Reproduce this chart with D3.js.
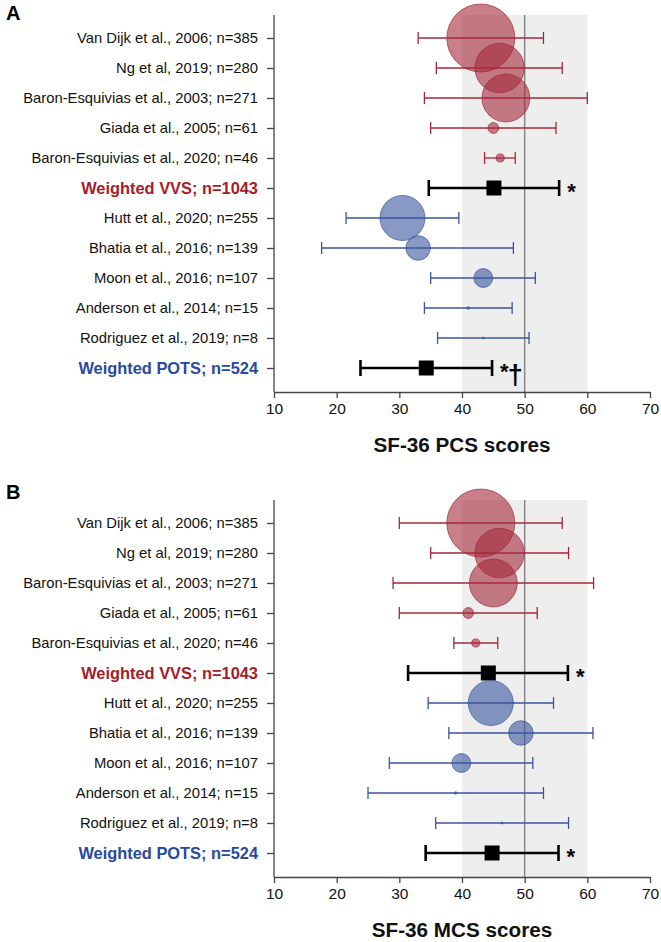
<!DOCTYPE html>
<html><head><meta charset="utf-8">
<script src="https://cdn.jsdelivr.net/npm/d3@7"></script>
<style>body{margin:0;background:#fff}svg{display:block}text{font-family:"Liberation Sans",Arial,sans-serif}</style>
</head><body>
<script>
const labels = ["Van Dijk et al., 2006; n=385","Ng et al, 2019; n=280","Baron-Esquivias et al., 2003; n=271","Giada et al., 2005; n=61","Baron-Esquivias et al., 2020; n=46","Weighted VVS; n=1043","Hutt et al., 2020; n=255","Bhatia et al., 2016; n=139","Moon et al., 2016; n=107","Anderson et al., 2014; n=15","Rodriguez et al., 2019; n=8","Weighted POTS; n=524"];
const nValues = [385,280,271,61,46,1043,255,139,107,15,8,524];
const groups = ["VVS","VVS","VVS","VVS","VVS","wVVS","POTS","POTS","POTS","POTS","POTS","wPOTS"];
const pcsMean = [43,46,47,45,46.1,45.1,30.5,33,43.4,41,43.4,34.3];
const pcsLow  = [33,35.9,34,35,43.6,34.7,21.5,17.6,35,34,36.1,23.8];
const pcsHigh = [53,56,60,55,48.5,55.5,39.5,48.2,51.7,48,50.7,44.8];
const pcsMarks = ["","","","","","*","","","","","","*†"];
const mcsMean = [43,46,45,41,42.2,44.2,44.6,49.4,39.9,39,46.4,44.8];
const mcsLow  = [30,35,29,30,38.7,31.4,34.6,37.9,28.4,25,35.8,34.2];
const mcsHigh = [56,57,61,52,45.7,56.9,54.6,60.9,51.3,53,57,55.4];
const mcsMarks = ["","","","","","*","","","","","","*"];
const xTicks = [10,20,30,40,50,60,70];
const normalBand = [40,60];
const normalLine = 50;

const W=661,H=942;
const svg=d3.select("body").append("svg").attr("width",W).attr("height",H);
const x=d3.scaleLinear().domain([10,70]).range([274,650]);
const r=d3.scaleLinear().domain([0,385]).range([0,34]);
const col={VVS:"#a3293a",POTS:"#3a559e",wVVS:"#a51c2b",wPOTS:"#284a9c"};

function panel(top,letter,letterY,mean,low,high,marks,title){
  const axisTop=top, axisBottom=top+377;
  const y=d3.scalePoint().domain(labels).range([top+23,top+353]);
  const g=svg.append("g");
  g.append("text").attr("x",6).attr("y",letterY).attr("font-size",20).attr("font-weight","bold").text(letter);
  g.append("rect").attr("x",x(normalBand[0])).attr("y",axisTop).attr("width",x(normalBand[1])-x(normalBand[0])).attr("height",axisBottom-axisTop).attr("fill","#eeeeee");
  g.append("line").attr("x1",x(normalLine)).attr("x2",x(normalLine)).attr("y1",axisTop).attr("y2",axisBottom).attr("stroke","#888").attr("stroke-width",1.5);
  const xa=g.append("g").attr("transform",`translate(0,${axisBottom})`).call(d3.axisBottom(x).tickValues(xTicks).tickSize(6).tickPadding(5).tickSizeOuter(0));
  xa.select(".domain").attr("stroke","#444").attr("stroke-width",1.3);
  xa.selectAll(".tick line").attr("stroke","#444").attr("stroke-width",1.3);
  xa.selectAll("text").attr("font-size",15.5).attr("fill","#111").attr("font-family","Liberation Sans, Arial, sans-serif");
  const ya=g.append("g").attr("transform",`translate(${x(10)},0)`).call(d3.axisLeft(y).tickSize(7).tickPadding(9).tickSizeOuter(0));
  ya.select(".domain").attr("d",`M0,${axisTop}V${axisBottom}`).attr("stroke","#444").attr("stroke-width",1.3);
  ya.selectAll(".tick line").attr("stroke","#444").attr("stroke-width",1.3);
  ya.selectAll("text").attr("font-family","Liberation Sans, Arial, sans-serif")
    .attr("fill",(d,i)=>groups[i]==="wVVS"?col.wVVS:groups[i]==="wPOTS"?col.wPOTS:"#111")
    .attr("font-weight",(d,i)=>groups[i].startsWith("w")?"bold":"normal")
    .attr("font-size",(d,i)=>groups[i].startsWith("w")?16.4:14.8);
  g.append("text").attr("x",x(40)).attr("y",axisBottom+60).attr("text-anchor","middle").attr("font-size",20.7).attr("font-weight","bold").attr("fill","#111").text(title);
  labels.forEach((lab,i)=>{
    const w=groups[i].startsWith("w");
    const c=w?"#000":col[groups[i]];
    const sw=w?2.6:1.3, cap=w?8:6;
    const yy=y(lab);
    g.append("line").attr("x1",x(low[i])).attr("x2",x(high[i])).attr("y1",yy).attr("y2",yy).attr("stroke",c).attr("stroke-width",sw);
    [low[i],high[i]].forEach(v=>g.append("line").attr("x1",x(v)).attr("x2",x(v)).attr("y1",yy-cap).attr("y2",yy+cap).attr("stroke",c).attr("stroke-width",sw));
    if(w){
      g.append("rect").attr("x",x(mean[i])-7.5).attr("y",yy-7.5).attr("width",15).attr("height",15).attr("fill","#000");
      if(marks[i]){
        const t=g.append("text").attr("x",x(high[i])+8).attr("y",yy+11).attr("font-weight","bold").attr("fill","#000");
        t.append("tspan").attr("font-size",22).text(marks[i][0]);
        if(marks[i].length>1) t.append("tspan").attr("font-size",27).attr("dy",5).attr("dx",-1).text(marks[i].slice(1));
      }
    } else {
      g.append("circle").attr("cx",x(mean[i])).attr("cy",yy).attr("r",Math.max(r(nValues[i]),1))
        .attr("fill",col[groups[i]]).attr("fill-opacity",0.6).attr("stroke",col[groups[i]]).attr("stroke-opacity",0.7).attr("stroke-width",1);
    }
  });
}
panel(15,"A",20,pcsMean,pcsLow,pcsHigh,pcsMarks,"SF-36 PCS scores");
panel(500,"B",499,mcsMean,mcsLow,mcsHigh,mcsMarks,"SF-36 MCS scores");
</script>
</body></html>
